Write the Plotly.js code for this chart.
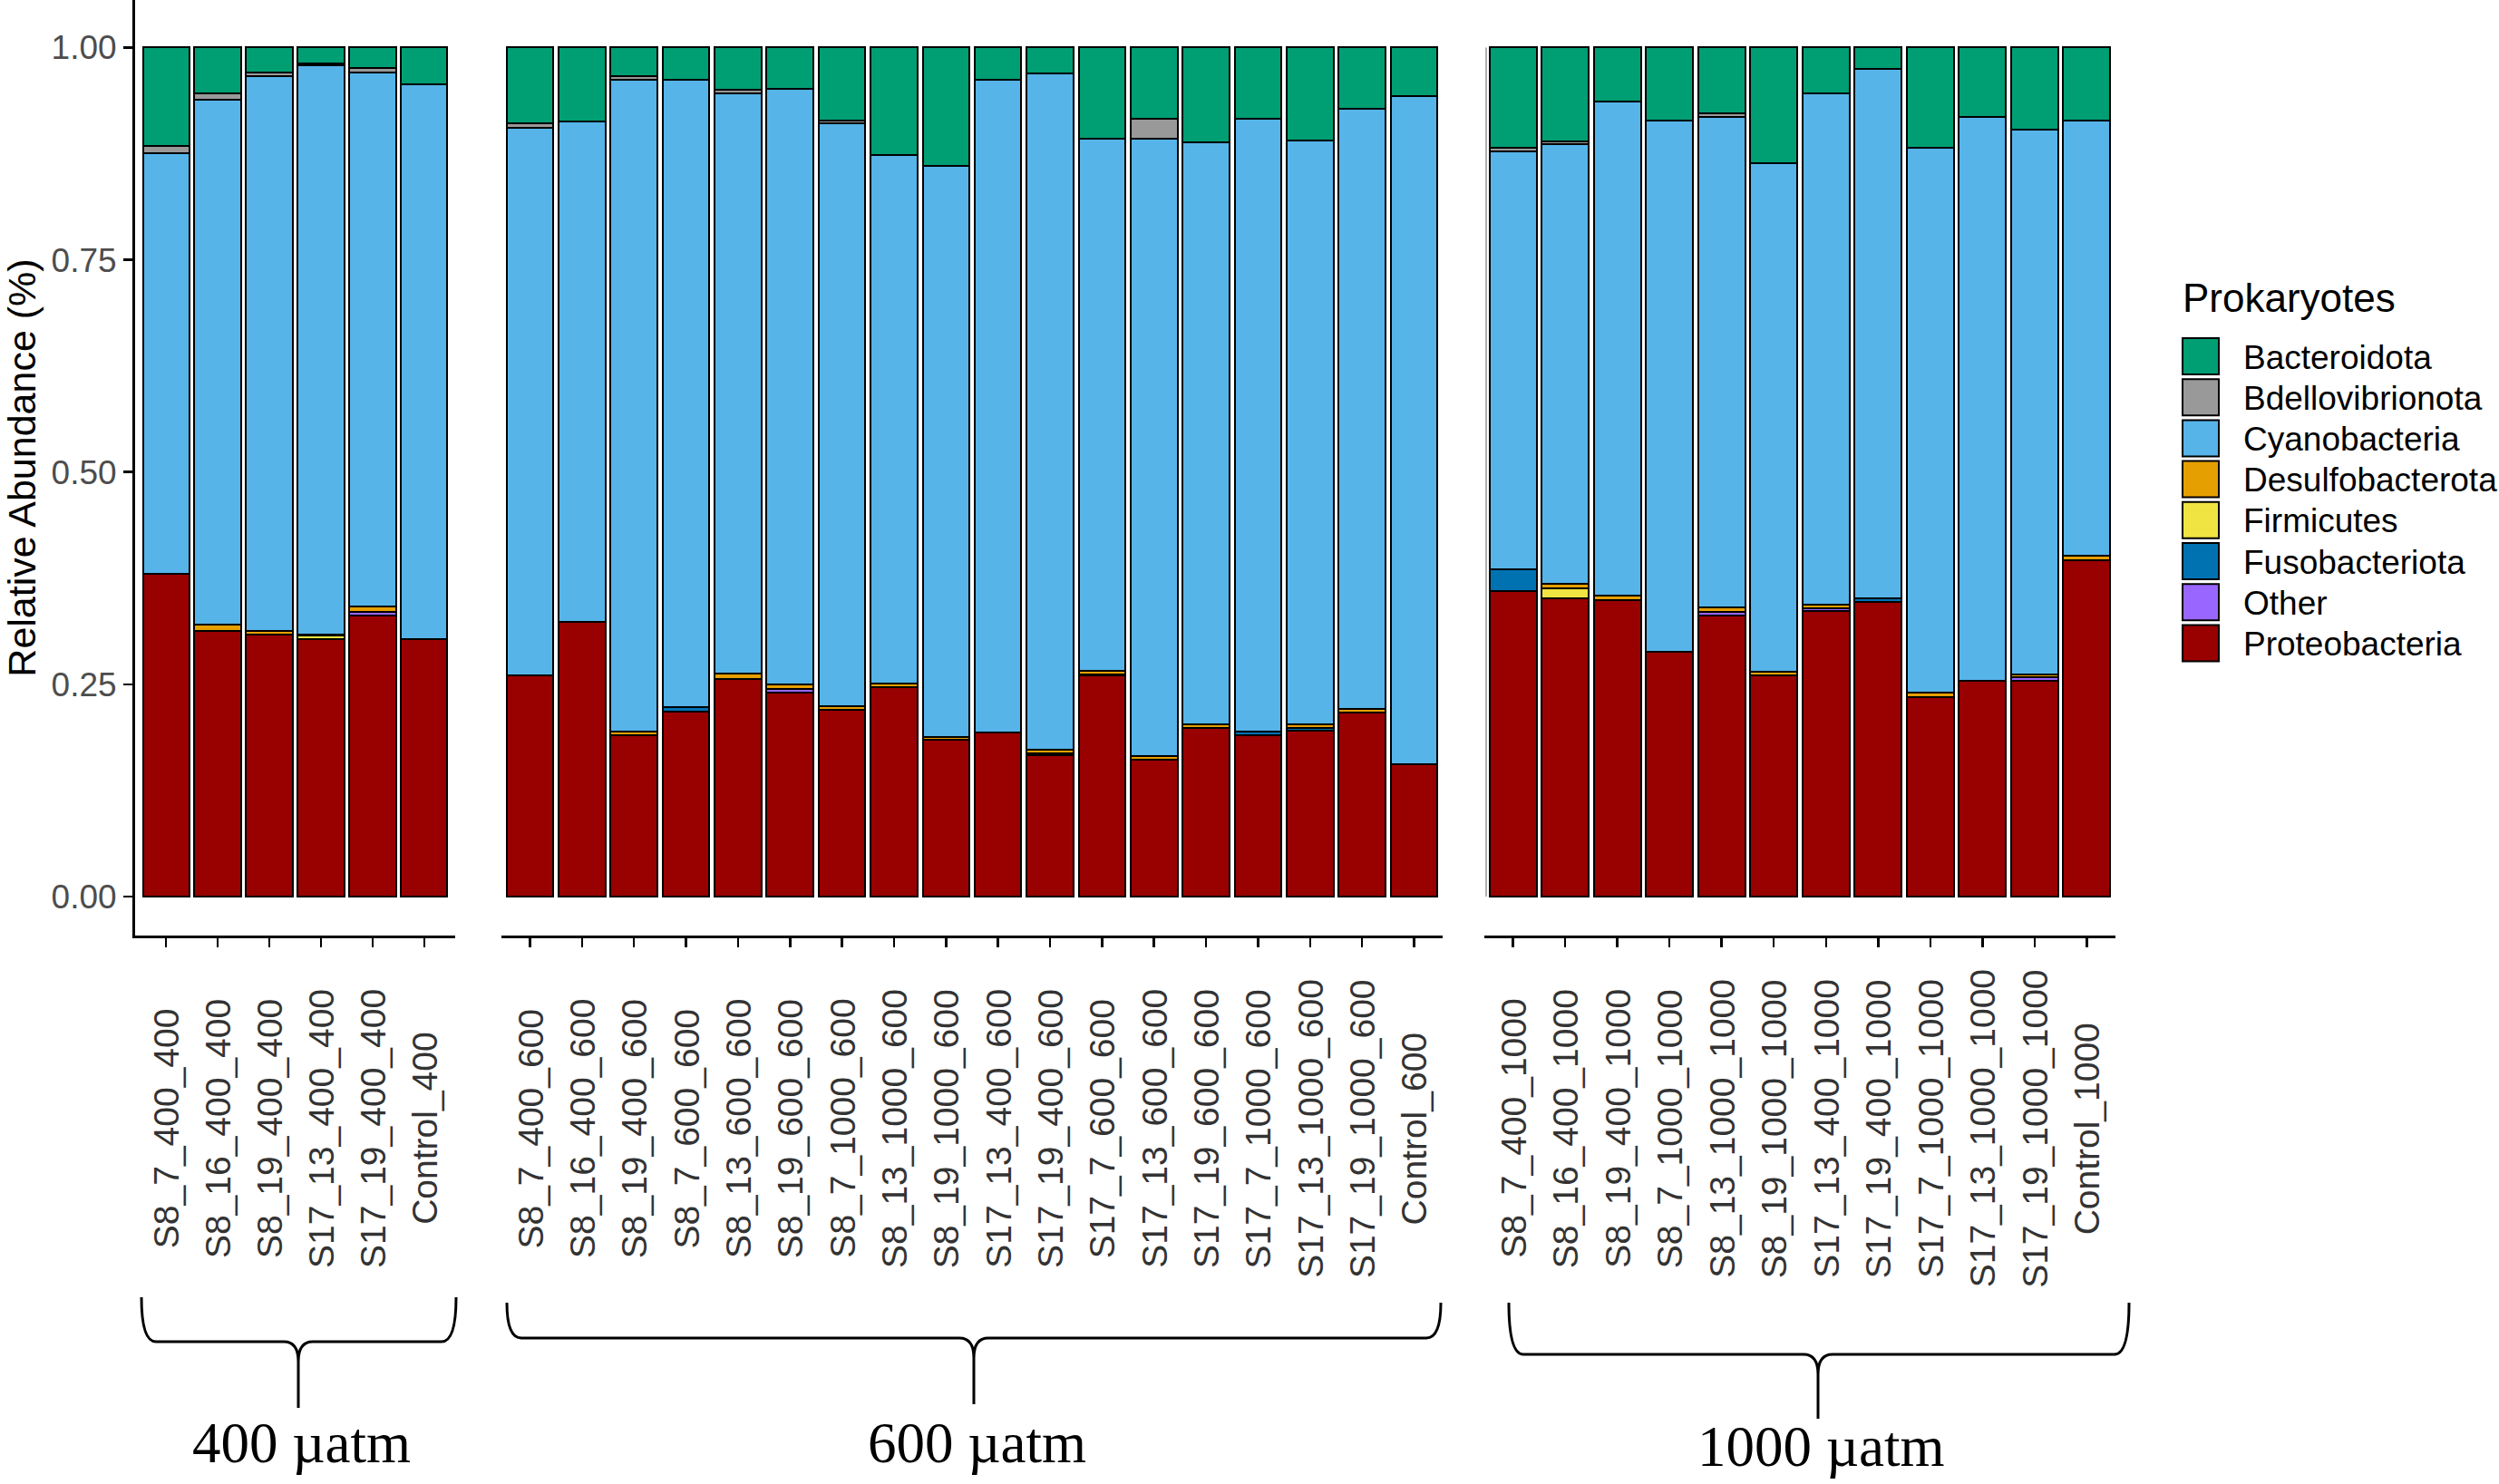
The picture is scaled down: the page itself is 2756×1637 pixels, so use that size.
<!DOCTYPE html>
<html>
<head>
<meta charset="utf-8">
<script src="https://cdn.plot.ly/plotly-3.0.1.min.js"></script>
<style>
  html, body { margin: 0; padding: 0; background: #fff; }
  #chart { width: 2756px; height: 1637px; }
</style>
</head>
<body>
<div id="chart"></div>
<script>
// sample names per CO2 group
const samples400 = ["S8_7_400_400", "S8_16_400_400", "S8_19_400_400", "S17_13_400_400", "S17_19_400_400", "Control_400"];
const samples600 = ["S8_7_400_600", "S8_16_400_600", "S8_19_400_600", "S8_7_600_600", "S8_13_600_600", "S8_19_600_600",
  "S8_7_1000_600", "S8_13_1000_600", "S8_19_1000_600", "S17_13_400_600", "S17_19_400_600", "S17_7_600_600",
  "S17_13_600_600", "S17_19_600_600", "S17_7_1000_600", "S17_13_1000_600", "S17_19_1000_600", "Control_600"];
const samples1000 = ["S8_7_400_1000", "S8_16_400_1000", "S8_19_400_1000", "S8_7_1000_1000", "S8_13_1000_1000", "S8_19_1000_1000",
  "S17_13_400_1000", "S17_19_400_1000", "S17_7_1000_1000", "S17_13_1000_1000", "S17_19_1000_1000", "Control_1000"];
const groupLabels = ["400 µatm", "600 µatm", "1000 µatm"];

// legend order (top to bottom) and colours
const phyla = ["Bacteroidota", "Bdellovibrionota", "Cyanobacteria", "Desulfobacterota", "Firmicutes", "Fusobacteriota", "Other", "Proteobacteria"];
const phylaColors = ["#009E73", "#999999", "#56B4E9", "#E69F00", "#F0E442", "#0072B2", "#9966FF", "#990000"];

// relative abundance, 36 samples: 400 group, 600 group, 1000 group
const bacteroidota = [0.116, 0.054, 0.029, 0.019, 0.024, 0.043,
  0.089, 0.087, 0.034, 0.038, 0.050, 0.049, 0.086, 0.127, 0.139, 0.038, 0.030, 0.107, 0.084, 0.112, 0.084, 0.109, 0.072, 0.057,
  0.118, 0.111, 0.064, 0.086, 0.077, 0.136, 0.054, 0.025, 0.118, 0.082, 0.097, 0.086];
const bdellovibrionota = [0.008, 0.007, 0.005, 0.002, 0.005, 0,
  0.006, 0, 0.004, 0, 0.004, 0, 0.003, 0, 0, 0, 0, 0, 0.023, 0, 0, 0, 0, 0,
  0.004, 0.003, 0, 0, 0.005, 0, 0, 0, 0, 0, 0, 0];
const cyanobacteria = [0.496, 0.619, 0.653, 0.670, 0.629, 0.654,
  0.644, 0.590, 0.768, 0.739, 0.683, 0.701, 0.687, 0.622, 0.673, 0.769, 0.797, 0.627, 0.728, 0.685, 0.722, 0.688, 0.707, 0.787,
  0.493, 0.518, 0.582, 0.626, 0.577, 0.599, 0.602, 0.624, 0.642, 0.664, 0.641, 0.513];
const desulfobacterota = [0, 0.007, 0.005, 0.002, 0.007, 0,
  0, 0, 0.004, 0, 0.007, 0.006, 0.004, 0.004, 0.003, 0, 0.004, 0.004, 0.004, 0.004, 0, 0.004, 0.004, 0,
  0, 0.005, 0.005, 0, 0.006, 0.005, 0.004, 0, 0.005, 0, 0.004, 0.005];
const firmicutes = [0, 0, 0, 0.004, 0, 0,
  0, 0, 0, 0, 0, 0, 0, 0, 0, 0, 0.002, 0.002, 0, 0, 0, 0, 0, 0,
  0, 0.012, 0, 0, 0, 0, 0, 0, 0, 0, 0, 0];
const fusobacteriota = [0, 0, 0, 0, 0, 0,
  0, 0, 0, 0.005, 0, 0, 0, 0, 0, 0, 0, 0, 0, 0, 0.004, 0.004, 0, 0,
  0.025, 0, 0, 0, 0, 0, 0, 0.004, 0, 0, 0, 0];
const other = [0, 0, 0, 0, 0.004, 0,
  0, 0, 0, 0, 0, 0.004, 0, 0, 0, 0, 0, 0, 0, 0, 0, 0, 0, 0,
  0, 0, 0, 0, 0.004, 0, 0.004, 0, 0, 0, 0.004, 0];
const proteobacteria = [0.380, 0.313, 0.308, 0.303, 0.331, 0.303,
  0.261, 0.323, 0.190, 0.218, 0.256, 0.240, 0.220, 0.247, 0.185, 0.193, 0.167, 0.260, 0.161, 0.199, 0.190, 0.195, 0.217, 0.156,
  0.360, 0.351, 0.349, 0.288, 0.331, 0.260, 0.336, 0.347, 0.235, 0.254, 0.254, 0.396];

const values = [bacteroidota, bdellovibrionota, cyanobacteria, desulfobacterota, firmicutes, fusobacteriota, other, proteobacteria];
const panels = [samples400, samples600, samples1000];
const axisIds = ["x", "x2", "x3"];

// page geometry (pixels)
const W = 2756, H = 1637;
const M = { l: 149, r: 423, t: 0, b: 605 };
const PW = W - M.l - M.r, PH = H - M.t - M.b;
const px = x => (x - M.l) / PW;
const py = y => (PH + M.t - y) / PH;

const sans = "Liberation Sans, Arial, sans-serif";
const serif = "Liberation Serif, Times New Roman, serif";

// bars: stack from the bottom (last phylum first)
const data = [];
let offset = 0;
panels.forEach(function (names, p) {
  for (let k = phyla.length - 1; k >= 0; k--) {
    data.push({
      type: "bar",
      name: phyla[k],
      x: names,
      y: values[k].slice(offset, offset + names.length),
      xaxis: axisIds[p],
      yaxis: "y",
      marker: { color: phylaColors[k], line: { color: "#000", width: 2 } },
      showlegend: false,
      hoverinfo: "x+y+name"
    });
  }
  offset += names.length;
});

// rotated sample labels, centred under each panel
const annotations = [];
panels.forEach(function (names, p) {
  names.forEach(function (n) {
    annotations.push({
      text: n, xref: axisIds[p], x: n, yref: "paper", y: py(1245),
      textangle: -90, showarrow: false, xanchor: "center", yanchor: "middle",
      font: { family: sans, size: 39, color: "#333" }
    });
  });
});

// braces and group labels
const braces = [
  { x0: 156, x1: 503, xm: 329, top: 1431, line: 1480, tip: 1553, ly: 1592 },
  { x0: 559, x1: 1589, xm: 1074, top: 1437, line: 1476, tip: 1549, ly: 1592 },
  { x0: 1664, x1: 2348, xm: 2005, top: 1437, line: 1494, tip: 1565, ly: 1596 }
];
const shapes = [];
function pt(x, y) { return px(x).toFixed(5) + "," + py(y).toFixed(5); }
braces.forEach(function (b, i) {
  const r = 16, c = 22;
  const path = "M" + pt(b.x0, b.top) +
    " Q" + pt(b.x0, b.line) + " " + pt(b.x0 + r, b.line) +
    " L" + pt(b.xm - r, b.line) +
    " Q" + pt(b.xm, b.line) + " " + pt(b.xm, b.line + c) +
    " L" + pt(b.xm, b.tip) +
    " M" + pt(b.xm, b.line + c) +
    " Q" + pt(b.xm, b.line) + " " + pt(b.xm + r, b.line) +
    " L" + pt(b.x1 - r, b.line) +
    " Q" + pt(b.x1, b.line) + " " + pt(b.x1, b.top);
  shapes.push({ type: "path", xref: "paper", yref: "paper", path: path, line: { color: "#000", width: 3 } });
  annotations.push({
    text: groupLabels[i], xref: "paper", yref: "paper", x: px(b.xm + 3), y: py(b.ly),
    showarrow: false, xanchor: "center", yanchor: "middle",
    font: { family: serif, size: 63, color: "#000" }
  });
});

// faint line on the left of the third panel
shapes.push({ type: "line", xref: "paper", yref: "y", x0: px(1639), x1: px(1639), y0: 0, y1: 1, line: { color: "#b0b0b0", width: 2 } });

// hand-drawn legend (ggplot style keys)
annotations.push({
  text: "Prokaryotes", xref: "paper", yref: "paper", x: px(2405), y: py(328),
  showarrow: false, xanchor: "left", yanchor: "middle",
  font: { family: sans, size: 44, color: "#000" }
});
phyla.forEach(function (name, i) {
  const top = 373 + i * 45.2;
  shapes.push({
    type: "rect", xref: "paper", yref: "paper",
    x0: px(2407), x1: px(2447), y0: py(top), y1: py(top + 40),
    fillcolor: phylaColors[i], line: { color: "#000", width: 2 }
  });
  annotations.push({
    text: name, xref: "paper", yref: "paper", x: px(2472), y: py(top + 21),
    showarrow: false, xanchor: "left", yanchor: "middle",
    font: { family: sans, size: 37, color: "#000" }
  });
});

function xAxis(domain, range) {
  return {
    domain: domain, anchor: "y", type: "category", range: range,
    showline: true, linecolor: "#000", linewidth: 3, mirror: false,
    ticks: "outside", ticklen: 10, tickwidth: 2.5, tickcolor: "#000",
    showticklabels: false, showgrid: false, zeroline: false, fixedrange: true
  };
}

const layout = {
  width: W, height: H,
  margin: M,
  paper_bgcolor: "#fff", plot_bgcolor: "rgba(0,0,0,0)",
  barmode: "stack", bargap: 0.1,
  showlegend: false,
  xaxis: xAxis([0, px(502)], [-0.6, samples400.length - 0.4]),
  xaxis2: xAxis([px(553), px(1591)], [-0.55, samples600.length - 0.45]),
  xaxis3: xAxis([px(1637), 1], [-0.55, samples1000.length - 0.45]),
  yaxis: {
    anchor: "x", range: [-0.046, 1.056],
    tickvals: [0, 0.25, 0.5, 0.75, 1], tickformat: ".2f",
    showline: true, linecolor: "#000", linewidth: 3,
    ticks: "outside", ticklen: 10, tickwidth: 2.5, tickcolor: "#000",
    tickfont: { family: sans, size: 37, color: "#4D4D4D" },
    showgrid: false, zeroline: false, fixedrange: true,
    title: { text: "Relative Abundance (%)", font: { family: sans, size: 43, color: "#000" }, standoff: 13 }
  },
  shapes: shapes,
  annotations: annotations
};

Plotly.newPlot("chart", data, layout, { displayModeBar: false, staticPlot: true });
</script>
</body>
</html>
